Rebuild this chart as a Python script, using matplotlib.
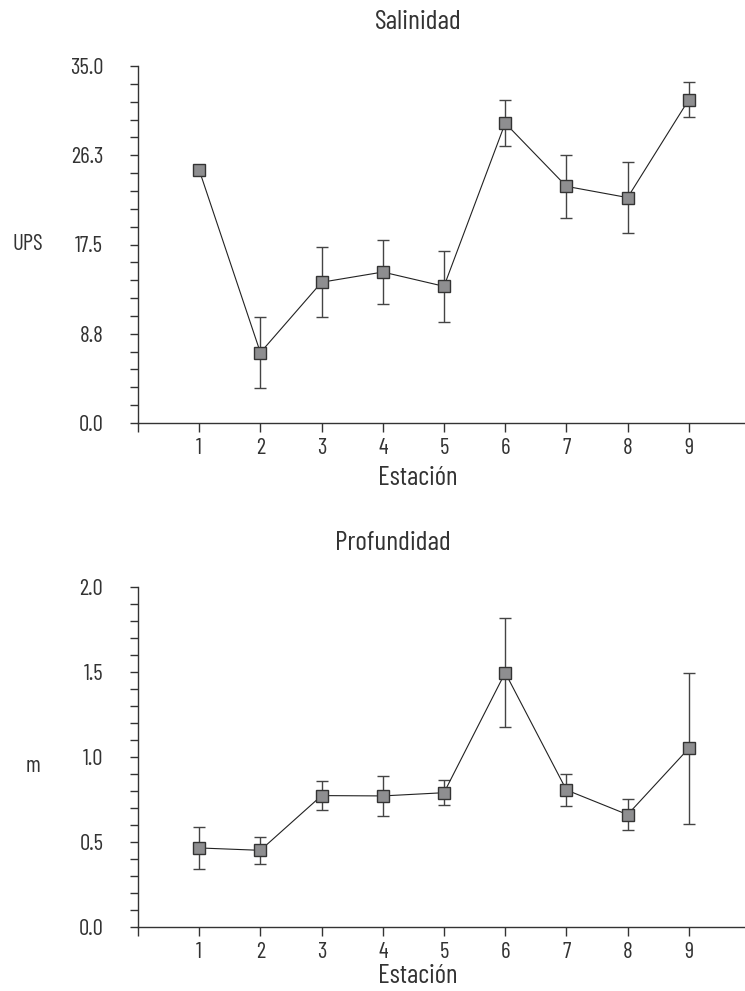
import numpy as np
import matplotlib
matplotlib.use("Agg")
import matplotlib.pyplot as plt
from matplotlib.ticker import MultipleLocator

plt.rcParams['font.family'] = ['Barlow Condensed', 'DejaVu Sans']
plt.rcParams['font.weight'] = 400

stations = [1, 2, 3, 4, 5, 6, 7, 8, 9]
sal_mean = [24.8, 6.9, 13.8, 14.8, 13.4, 29.4, 23.2, 22.1, 31.7]
sal_err = [0.5, 3.5, 3.45, 3.1, 3.45, 2.25, 3.1, 3.45, 1.7]
prof_mean = [0.465, 0.451, 0.773, 0.771, 0.790, 1.496, 0.806, 0.661, 1.051]
prof_err = [0.123, 0.08, 0.085, 0.12, 0.072, 0.32, 0.094, 0.09, 0.444]

sal_ticks = [0.0, 8.75, 17.5, 26.25, 35.0]
sal_ticklabels = ['0.0', '8.8', '17.5', '26.3', '35.0']
prof_ticks = [0.0, 0.5, 1.0, 1.5, 2.0]
prof_ticklabels = ['0.0', '0.5', '1.0', '1.5', '2.0']
xticklabels = ['', '1', '2', '3', '4', '5', '6', '7', '8', '9']

W, H = 745, 991
fig = plt.figure(figsize=(W / 100, H / 100), dpi=100)

txt = '#333333'
axc = '#333333'
TS = 16.5
LS = 19.5


def setup(ax, means, errs, ylim, yticks, ylabels, minor):
    ax.errorbar(stations, means, yerr=errs, fmt='none', ecolor='#444444',
                elinewidth=1.0, capsize=4.4, capthick=1.0, zorder=2)
    ax.plot(stations, means, '-', color='#222222', lw=0.8, zorder=3)
    ax.plot(stations, means, 's', ms=8, mfc='#8e8e90', mec='#333333',
            mew=1.0, zorder=4, clip_on=False)
    ax.set_xlim(0, 10)
    ax.set_ylim(*ylim)
    ax.set_xticks(range(0, 10))
    ax.set_xticklabels(xticklabels)
    ax.set_yticks(yticks)
    ax.set_yticklabels(ylabels)
    ax.yaxis.set_minor_locator(MultipleLocator(minor))
    for s in ['top', 'right']:
        ax.spines[s].set_visible(False)
    for s in ['left', 'bottom']:
        ax.spines[s].set_color(axc)
        ax.spines[s].set_linewidth(1.0)
    ax.tick_params(axis='y', which='both', direction='out', length=6,
                   width=1.0, color=axc, labelsize=TS, labelcolor=txt, pad=19)
    ax.tick_params(axis='x', which='both', direction='out', length=6.5,
                   width=1.0, color=axc, labelsize=TS, labelcolor=txt, pad=4)


ax1 = fig.add_axes([138 / W, (H - 423) / H, 612 / W, (423 - 66) / H])
setup(ax1, sal_mean, sal_err, (0, 35), sal_ticks, sal_ticklabels, 1.75)
ax2 = fig.add_axes([138 / W, (H - 927) / H, 612 / W, (927 - 587) / H])
setup(ax2, prof_mean, prof_err, (0, 2.0), prof_ticks, prof_ticklabels, 0.1)

# titles and labels
fig.text(418 / W, 1 - 22 / H, 'Salinidad', ha='center', va='center',
         fontsize=20, color=txt)
fig.text(393 / W, 1 - 543 / H, 'Profundidad', ha='center', va='center',
         fontsize=20, color=txt)
fig.text(418 / W, 1 - 478 / H, 'Estación', ha='center', va='center',
         fontsize=LS, color=txt)
fig.text(418 / W, 1 - 976 / H, 'Estación', ha='center', va='center',
         fontsize=LS, color=txt)
fig.text(28 / W, 1 - 245 / H, 'UPS', ha='center', va='center',
         fontsize=TS, color=txt)
fig.text(33 / W, 1 - 766 / H, 'm', ha='center', va='center',
         fontsize=TS, color=txt)

fig.savefig('out.png', dpi=100)
